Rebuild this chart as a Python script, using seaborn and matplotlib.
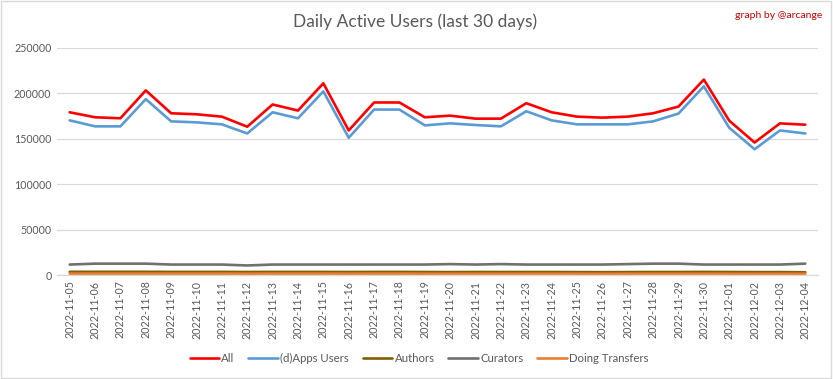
import matplotlib
matplotlib.use("Agg")
import matplotlib.pyplot as plt
import seaborn as sns
import pandas as pd

dates = ["2022-11-05","2022-11-06","2022-11-07","2022-11-08","2022-11-09","2022-11-10",
         "2022-11-11","2022-11-12","2022-11-13","2022-11-14","2022-11-15","2022-11-16",
         "2022-11-17","2022-11-18","2022-11-19","2022-11-20","2022-11-21","2022-11-22",
         "2022-11-23","2022-11-24","2022-11-25","2022-11-26","2022-11-27","2022-11-28",
         "2022-11-29","2022-11-30","2022-12-01","2022-12-02","2022-12-03","2022-12-04"]

all_users = [179200,173700,172600,203300,178100,177000,174400,163300,187800,181100,
             211100,159200,190000,190000,173700,175500,172200,172200,189200,179200,
             174400,173300,174400,178100,185500,215200,170000,145900,167000,165500]
apps_users = [170300,163700,163700,193700,169200,168100,165900,155900,179200,172600,
              202200,151100,182200,182200,164800,167000,165200,163700,180300,170300,
              165900,165900,165900,169200,177800,207800,162200,138500,159200,155900]
authors = [3500,3500,3500,3500,3400,3400,3400,3300,3400,3400,
           3400,3300,3400,3400,3300,3200,3300,3300,3300,3300,
           3200,3100,3200,3300,3300,3400,3300,3200,3200,3000]
curators = [11500,12500,12500,12500,11500,11500,11500,10500,11500,11500,
            11500,11500,11500,11500,11500,12000,11500,12000,11500,11500,
            11500,11500,12000,12500,12500,11500,11500,11500,11500,12500]
transfers = [1500,1500,1500,1500,1500,1500,1500,1400,1500,1500,
             1500,1400,1500,1500,1400,1400,1400,1400,1400,1400,
             1400,1300,1400,1400,1400,1400,1400,1300,1300,1300]

series_names = ["All", "(d)Apps Users", "Authors", "Curators", "Doing Transfers"]
colors = ["#ff0000", "#5b9bd5", "#7f6000", "#707070", "#ed7d31"]

rows = []
for name, vals in zip(series_names, [all_users, apps_users, authors, curators, transfers]):
    for i, v in enumerate(vals):
        rows.append({"idx": i, "value": v, "series": name})
df = pd.DataFrame(rows)

sns.set_theme(style="white")
plt.rcParams["font.family"] = ["Lato", "DejaVu Sans"]

fig = plt.figure(figsize=(8.33, 3.79), dpi=100)
ax = fig.add_axes([57/833, 1 - 275/379, (818-57)/833, (275-48)/379])

sns.lineplot(data=df, x="idx", y="value", hue="series", hue_order=series_names,
             palette=dict(zip(series_names, colors)), linewidth=1.9, ax=ax, legend=False)

ax.set_xlim(-0.5, len(dates) - 0.5)
ax.set_ylim(0, 250000)
ax.set_yticks([0, 50000, 100000, 150000, 200000, 250000])
ax.set_yticklabels(["0", "50000", "100000", "150000", "200000", "250000"])
ax.set_xticks(range(len(dates)))
ax.set_xticklabels(dates, rotation=90)
ax.tick_params(axis="both", labelsize=7.7, colors="#595959", length=0, pad=4)
ax.set_xlabel("")
ax.set_ylabel("")
ax.grid(axis="y", color="#d9d9d9", linewidth=0.9)
ax.set_axisbelow(True)
for s in ["left", "right", "top"]:
    ax.spines[s].set_visible(False)
ax.spines["bottom"].set_color("#d9d9d9")
ax.spines["bottom"].set_linewidth(0.9)

fig.text(415/833, 1 - 22/379, "Daily Active Users (last 30 days)", ha="center", va="center",
         fontsize=12.5, color="#595959")
fig.text(822/833, 1 - 15/379, "graph by @arcange", ha="right", va="center",
         fontsize=7.5, color="#cc0000")

handles = [plt.Line2D([], [], color=c, linewidth=1.9) for c in colors]
fig.legend(handles, series_names, loc="center", bbox_to_anchor=(419/833, 1 - 358/379),
           ncol=5, frameon=False, fontsize=8.2, labelcolor="#595959",
           handlelength=2.6, columnspacing=1.2, handletextpad=0.2)

fig.patches.append(plt.Rectangle((0.001, 0.002), 0.997, 0.995, transform=fig.transFigure,
                                 fill=False, edgecolor="#d9d9d9", linewidth=1.0))

fig.savefig("out.png", dpi=100, facecolor="white")
